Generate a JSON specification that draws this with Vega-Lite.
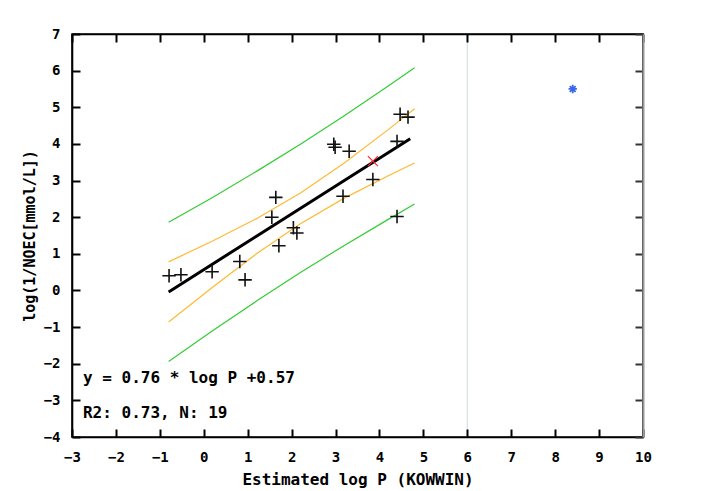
{
  "$schema": "https://vega.github.io/schema/vega-lite/v6.json",
  "width": 571,
  "height": 403,
  "autosize": {"type": "none"},
  "padding": {"left": 72, "top": 34, "right": 76, "bottom": 54},
  "background": "#ffffff",
  "config": {"view": {"stroke": "#000000", "strokeWidth": 1.6}, "font": "DejaVu Sans Mono"},
  "datasets": {
    "points": [
      {"x": -0.79, "y": 0.40}, {"x": -0.52, "y": 0.43}, {"x": 0.19, "y": 0.51},
      {"x": 0.82, "y": 0.79}, {"x": 0.94, "y": 0.29}, {"x": 1.64, "y": 2.54},
      {"x": 1.55, "y": 2.00}, {"x": 2.04, "y": 1.71}, {"x": 2.12, "y": 1.57},
      {"x": 1.71, "y": 1.22}, {"x": 2.96, "y": 3.99}, {"x": 2.99, "y": 3.91},
      {"x": 3.31, "y": 3.80}, {"x": 3.17, "y": 2.57}, {"x": 3.85, "y": 3.03},
      {"x": 4.40, "y": 2.02}, {"x": 4.40, "y": 4.07}, {"x": 4.47, "y": 4.81},
      {"x": 4.65, "y": 4.73}
    ],
    "lines": [
      {"band": "upperPred", "x": -0.8, "y": 1.86}, {"band": "upperPred", "x": 0.2, "y": 2.54}, {"band": "upperPred", "x": 1.2, "y": 3.25}, {"band": "upperPred", "x": 2.2, "y": 3.99}, {"band": "upperPred", "x": 3.2, "y": 4.77}, {"band": "upperPred", "x": 4.2, "y": 5.58}, {"band": "upperPred", "x": 4.8, "y": 6.08},
      {"band": "lowerPred", "x": -0.8, "y": -1.94}, {"band": "lowerPred", "x": 0.2, "y": -1.10}, {"band": "lowerPred", "x": 1.2, "y": -0.29}, {"band": "lowerPred", "x": 2.2, "y": 0.49}, {"band": "lowerPred", "x": 3.2, "y": 1.23}, {"band": "lowerPred", "x": 4.2, "y": 1.94}, {"band": "lowerPred", "x": 4.8, "y": 2.36},
      {"band": "upperConf", "x": -0.8, "y": 0.78}, {"band": "upperConf", "x": 0.2, "y": 1.35}, {"band": "upperConf", "x": 1.2, "y": 1.96}, {"band": "upperConf", "x": 2.2, "y": 2.66}, {"band": "upperConf", "x": 3.2, "y": 3.48}, {"band": "upperConf", "x": 4.2, "y": 4.39}, {"band": "upperConf", "x": 4.8, "y": 4.96},
      {"band": "lowerConf", "x": -0.8, "y": -0.86}, {"band": "lowerConf", "x": 0.2, "y": 0.09}, {"band": "lowerConf", "x": 1.2, "y": 1.00}, {"band": "lowerConf", "x": 2.2, "y": 1.82}, {"band": "lowerConf", "x": 3.2, "y": 2.52}, {"band": "lowerConf", "x": 4.2, "y": 3.13}, {"band": "lowerConf", "x": 4.8, "y": 3.48}
    ],
    "fit": [
      {"x": -0.8, "y": -0.04}, {"x": 1.2, "y": 1.48}, {"x": 3.2, "y": 3.00}, {"x": 4.7, "y": 4.14}
    ],
    "test": [{"x": 3.85, "y": 3.53}],
    "outlier": [{"x": 8.40, "y": 5.50}],
    "vline": [{"x": 6}],
    "notes": [
      {"x": -2.75, "y": -2.39, "t": "y = 0.76 * log P +0.57"},
      {"x": -2.75, "y": -3.35, "t": "R2: 0.73, N: 19"}
    ]
  },
  "layer": [
    {
      "data": {"name": "vline"},
      "mark": {"type": "rule", "color": "#cfe4ee", "strokeWidth": 1.2},
      "encoding": {
        "x": {"field": "x", "type": "quantitative", "scale": {"domain": [-3, 10], "nice": false, "zero": false},
          "axis": {"orient": "top", "title": null, "labels": false, "domain": true, "domainColor": "#000000", "domainWidth": 1.6, "values": [-3, -2, -1, 0, 1, 2, 3, 4, 5, 6, 7, 8, 9, 10],
            "ticks": true, "tickSize": -8, "tickColor": "#000000", "tickWidth": 2, "grid": true, "gridOpacity": 0, "zindex": 1}}
      }
    },
    {
      "data": {"name": "lines"},
      "mark": {"type": "line", "interpolate": "linear", "strokeWidth": 1.2},
      "encoding": {
        "x": {"field": "x", "type": "quantitative", "scale": {"domain": [-3, 10], "nice": false, "zero": false}, "axis": null},
        "y": {"field": "y", "type": "quantitative", "scale": {"domain": [-4, 7], "nice": false, "zero": false},
          "axis": {"orient": "right", "title": null, "labels": false, "domain": true, "domainColor": "#999999", "domainWidth": 2, "values": [-4, -3, -2, -1, 0, 1, 2, 3, 4, 5, 6, 7],
            "ticks": true, "tickSize": -8, "tickColor": "#333333", "tickWidth": 2, "grid": true, "gridOpacity": 0, "zindex": 1}},
        "detail": {"field": "band"},
        "color": {"field": "band", "type": "nominal", "legend": null,
          "scale": {"domain": ["upperPred", "lowerPred", "upperConf", "lowerConf"], "range": ["#33cc33", "#33cc33", "#ffb933", "#ffb933"]}}
      }
    },
    {
      "data": {"name": "fit"},
      "mark": {"type": "line", "color": "#000000", "strokeWidth": 3},
      "encoding": {
        "x": {"field": "x", "type": "quantitative", "scale": {"domain": [-3, 10], "nice": false, "zero": false}, "axis": null},
        "y": {"field": "y", "type": "quantitative", "scale": {"domain": [-4, 7], "nice": false, "zero": false}, "axis": null}
      }
    },
    {
      "data": {"name": "points"},
      "mark": {"type": "point", "shape": "M-1,0L1,0M0,-1L0,1", "filled": false, "color": "#111111", "strokeWidth": 1.6, "size": 180, "opacity": 1},
      "encoding": {
        "x": {"field": "x", "type": "quantitative", "scale": {"domain": [-3, 10], "nice": false, "zero": false},
          "axis": {"orient": "bottom", "title": "Estimated log P (KOWWIN)", "values": [-3, -2, -1, 0, 1, 2, 3, 4, 5, 6, 7, 8, 9, 10],
            "ticks": true, "tickSize": -8, "tickColor": "#000000", "tickWidth": 2, "domain": true, "domainColor": "#000000", "domainWidth": 1.6,
            "labelFont": "DejaVu Sans Mono", "labelFontWeight": "bold", "labelFontSize": 14, "labelColor": "#000000",
            "labelPadding": 21, "labelFlush": false, "labelOverlap": false, "grid": true, "gridOpacity": 0, "zindex": 1,
            "titleFont": "DejaVu Sans Mono", "titleFontWeight": "bold", "titleFontSize": 16, "titleColor": "#000000", "titlePadding": 7}},
        "y": {"field": "y", "type": "quantitative", "scale": {"domain": [-4, 7], "nice": false, "zero": false},
          "axis": {"orient": "left", "title": "log(1/NOEC[mmol/L])", "values": [-4, -3, -2, -1, 0, 1, 2, 3, 4, 5, 6, 7],
            "ticks": true, "tickSize": -8, "tickColor": "#000000", "tickWidth": 2, "domain": true, "domainColor": "#000000", "domainWidth": 1.6,
            "labelFont": "DejaVu Sans Mono", "labelFontWeight": "bold", "labelFontSize": 14, "labelColor": "#000000",
            "labelPadding": 20, "labelFlush": false, "labelOverlap": false, "grid": true, "gridOpacity": 0, "zindex": 1,
            "titleFont": "DejaVu Sans Mono", "titleFontWeight": "bold", "titleFontSize": 15, "titleColor": "#000000", "titlePadding": 6}}
      }
    },
    {
      "data": {"name": "test"},
      "mark": {"type": "point", "shape": "M-1,-1L1,1M-1,1L1,-1", "filled": false, "color": "#ff2a2a", "strokeWidth": 1.2, "size": 100, "opacity": 1},
      "encoding": {
        "x": {"field": "x", "type": "quantitative", "scale": {"domain": [-3, 10], "nice": false, "zero": false}, "axis": null},
        "y": {"field": "y", "type": "quantitative", "scale": {"domain": [-4, 7], "nice": false, "zero": false}, "axis": null}
      }
    },
    {
      "data": {"name": "outlier"},
      "mark": {"type": "point", "shape": "M-1,0L1,0M0,-1L0,1M-0.7,-0.7L0.7,0.7M-0.7,0.7L0.7,-0.7", "filled": false, "color": "#3a66e8", "strokeWidth": 1.8, "size": 70, "opacity": 1},
      "encoding": {
        "x": {"field": "x", "type": "quantitative", "scale": {"domain": [-3, 10], "nice": false, "zero": false}, "axis": null},
        "y": {"field": "y", "type": "quantitative", "scale": {"domain": [-4, 7], "nice": false, "zero": false}, "axis": null}
      }
    },
    {
      "data": {"name": "notes"},
      "mark": {"type": "text", "align": "left", "baseline": "middle", "font": "DejaVu Sans Mono", "fontWeight": "bold", "fontSize": 16, "color": "#000000"},
      "encoding": {
        "x": {"field": "x", "type": "quantitative", "scale": {"domain": [-3, 10], "nice": false, "zero": false}, "axis": null},
        "y": {"field": "y", "type": "quantitative", "scale": {"domain": [-4, 7], "nice": false, "zero": false}, "axis": null},
        "text": {"field": "t"}
      }
    }
  ],
  "resolve": {"axis": {"x": "independent", "y": "independent"}}
}
